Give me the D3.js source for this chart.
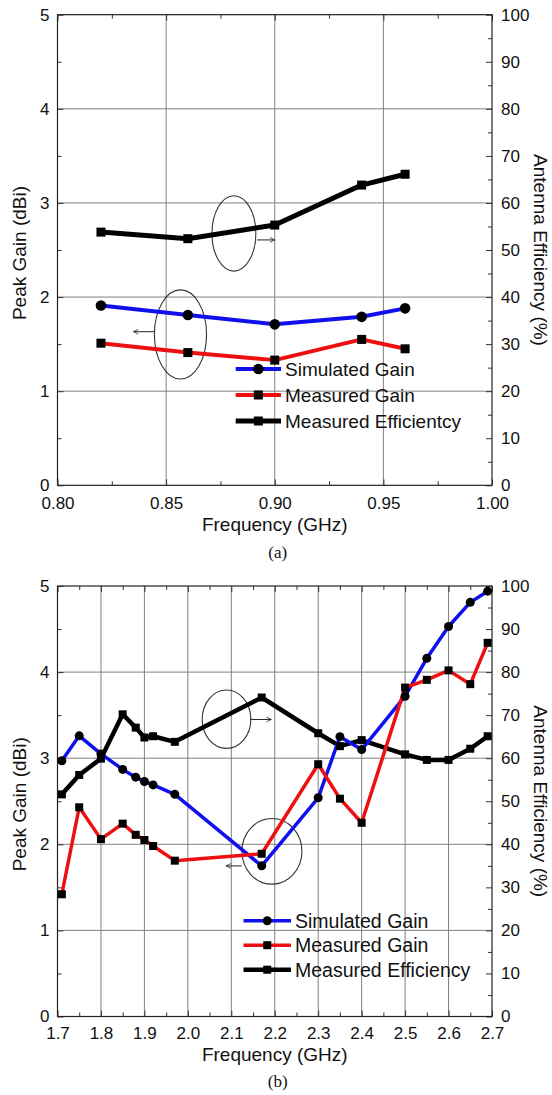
<!DOCTYPE html>
<html><head><meta charset="utf-8">
<script src="https://cdn.jsdelivr.net/npm/d3@7"></script>
<style>
html,body{margin:0;padding:0;background:#fff;}
svg{display:block;}
text{font-family:"Liberation Sans",Arial,sans-serif;fill:#111;}
</style></head>
<body>
<svg id="fig" width="552" height="1095"></svg>
<script>
// ---------- Data: panel (a) ----------
const freqA = [0.82, 0.86, 0.90, 0.94, 0.96];
const simGainA = [1.91, 1.81, 1.71, 1.79, 1.88];
const measGainA = [1.51, 1.41, 1.33, 1.55, 1.45];
const measEffA = [53.8, 52.4, 55.3, 63.8, 66.1];
const xTicksA = [0.80, 0.85, 0.90, 0.95, 1.00];
const xMinorA = [0.825, 0.875, 0.925, 0.975];
const legendA = ["Simulated Gain", "Measured Gain", "Measured Efficientcy"];

// ---------- Data: panel (b) ----------
const freqB = [1.71, 1.75, 1.80, 1.85, 1.88, 1.90, 1.92, 1.97, 2.17, 2.30, 2.35, 2.40, 2.50, 2.55, 2.60, 2.65, 2.69];
const simGainB = [2.97, 3.26, 3.05, 2.87, 2.78, 2.73, 2.69, 2.58, 1.75, 2.54, 3.25, 3.10, 3.72, 4.16, 4.53, 4.81, 4.94];
const measGainB = [1.42, 2.43, 2.06, 2.24, 2.11, 2.05, 1.98, 1.81, 1.89, 2.93, 2.53, 2.25, 3.82, 3.91, 4.02, 3.86, 4.34];
const measEffB = [51.6, 56.1, 59.9, 70.2, 67.1, 64.8, 65.1, 63.8, 74.1, 65.8, 62.8, 64.2, 60.9, 59.6, 59.6, 62.2, 65.1];
const xTicksB = [1.7, 1.8, 1.9, 2.0, 2.1, 2.2, 2.3, 2.4, 2.5, 2.6, 2.7];
const xMinorB = [1.75, 1.85, 1.95, 2.05, 2.15, 2.25, 2.35, 2.45, 2.55, 2.65];
const legendB = ["Simulated Gain", "Measured Gain", "Measured Efficiency"];

// ---------- Shared ticks ----------
const gainTicks = [0, 1, 2, 3, 4, 5];
const gainMinor = [0.5, 1.5, 2.5, 3.5, 4.5];
const effTicks = [0, 10, 20, 30, 40, 50, 60, 70, 80, 90, 100];
const effMinor = [5, 15, 25, 35, 45, 55, 65, 75, 85, 95];
const seriesColors = ["#1010ee", "#ee1010", "#000000"];

// annotation ellipses / arrows in data units: [cx, cy(gain), rx, ry(gain)]
const ellipsesA = [[0.8812, 2.676, 0.0101, 0.40], [0.8566, 1.603, 0.0120, 0.473]];
const arrowsA = [[0.8918, 2.607, 0.9000, 2.607], [0.8446, 1.632, 0.8350, 1.632]];
const ellipsesB = [[2.089, 3.453, 0.056, 0.339], [2.1935, 1.918, 0.069, 0.381]];
const arrowsB = [[2.1436, 3.45, 2.192, 3.45], [2.124, 1.749, 2.088, 1.749]];

const svg = d3.select("#fig");
const defs = svg.append("defs");
defs.append("marker").attr("id", "arrowhead")
  .attr("viewBox", "0 0 10 10").attr("refX", 9).attr("refY", 5)
  .attr("markerWidth", 6).attr("markerHeight", 6).attr("orient", "auto")
  .append("path").attr("d", "M1,1 L9,5 L1,9").attr("fill", "none").attr("stroke", "#222").attr("stroke-width", 1.3);

function panel(cfg) {
  const x = d3.scaleLinear().domain(cfg.xDomain).range([cfg.left, cfg.right]);
  const yL = d3.scaleLinear().domain([0, 5]).range([cfg.bottom, cfg.top]);
  const yR = d3.scaleLinear().domain([0, 100]).range([cfg.bottom, cfg.top]);
  const g = svg.append("g");

  // grid
  const innerX = cfg.xTicks.slice(1, -1);
  g.selectAll(".gx").data(innerX).enter().append("line")
    .attr("x1", d => x(d)).attr("x2", d => x(d)).attr("y1", cfg.top).attr("y2", cfg.bottom)
    .attr("stroke", "#808080").attr("stroke-width", 1);
  g.selectAll(".gy").data(gainTicks.slice(1, -1)).enter().append("line")
    .attr("x1", cfg.left).attr("x2", cfg.right).attr("y1", d => yL(d)).attr("y2", d => yL(d))
    .attr("stroke", "#808080").attr("stroke-width", 1);

  const fs = cfg.tickFont;
  function styleAxis(sel) {
    sel.select(".domain").remove();
    sel.selectAll(".tick line").attr("stroke", "#333").attr("stroke-width", 1);
    sel.selectAll("text").attr("font-size", fs).attr("fill", "#111")
      .attr("font-family", "Liberation Sans, Arial, sans-serif");
  }
  // bottom axis
  g.append("g").attr("transform", `translate(0,${cfg.bottom})`)
    .call(d3.axisBottom(x).tickValues(cfg.xTicks).tickSize(-6).tickPadding(cfg.xPad).tickFormat(d3.format(cfg.xFmt)))
    .call(styleAxis);
  g.append("g").attr("transform", `translate(0,${cfg.bottom})`)
    .call(d3.axisBottom(x).tickValues(cfg.xMinor).tickSize(-4).tickFormat("")).call(styleAxis);
  // top axis
  g.append("g").attr("transform", `translate(0,${cfg.top})`)
    .call(d3.axisTop(x).tickValues(cfg.xTicks).tickSize(-6).tickFormat("")).call(styleAxis);
  g.append("g").attr("transform", `translate(0,${cfg.top})`)
    .call(d3.axisTop(x).tickValues(cfg.xMinor).tickSize(-4).tickFormat("")).call(styleAxis);
  // left axis
  g.append("g").attr("transform", `translate(${cfg.left},0)`)
    .call(d3.axisLeft(yL).tickValues(gainTicks).tickSize(-6).tickPadding(8).tickFormat(d3.format("d")))
    .call(styleAxis);
  g.append("g").attr("transform", `translate(${cfg.left},0)`)
    .call(d3.axisLeft(yL).tickValues(gainMinor).tickSize(-4).tickFormat("")).call(styleAxis);
  // right axis
  g.append("g").attr("transform", `translate(${cfg.right},0)`)
    .call(d3.axisRight(yR).tickValues(effTicks).tickSize(-6).tickPadding(9).tickFormat(d3.format("d")))
    .call(styleAxis);
  g.append("g").attr("transform", `translate(${cfg.right},0)`)
    .call(d3.axisRight(yR).tickValues(effMinor).tickSize(-4).tickFormat("")).call(styleAxis);

  // frame
  g.append("rect").attr("x", cfg.left).attr("y", cfg.top)
    .attr("width", cfg.right - cfg.left).attr("height", cfg.bottom - cfg.top)
    .attr("fill", "none").attr("stroke", "#222").attr("stroke-width", 1.2);

  // annotations
  cfg.ellipses.forEach(e => {
    g.append("ellipse").attr("cx", x(e[0])).attr("cy", yL(e[1]))
      .attr("rx", x(e[0] + e[2]) - x(e[0])).attr("ry", yL(e[1] - e[3]) - yL(e[1]))
      .attr("fill", "none").attr("stroke", "#333").attr("stroke-width", 1.1);
  });
  cfg.arrows.forEach(a => {
    g.append("line").attr("x1", x(a[0])).attr("y1", yL(a[1])).attr("x2", x(a[2])).attr("y2", yL(a[3]))
      .attr("stroke", "#222").attr("stroke-width", 1).attr("marker-end", "url(#arrowhead)");
  });

  // series
  const series = [
    {vals: cfg.sim, y: yL, color: seriesColors[0], shape: "circle", w: cfg.lw},
    {vals: cfg.meas, y: yL, color: seriesColors[1], shape: "square", w: cfg.lw},
    {vals: cfg.eff, y: yR, color: seriesColors[2], shape: "square", w: cfg.lwEff}
  ];
  const drawOrder = cfg.order;
  drawOrder.forEach(i => {
    const s = series[i];
    const pts = cfg.freq.map((f, k) => [x(f), s.y(s.vals[k])]);
    g.append("path").attr("d", d3.line()(pts)).attr("fill", "none")
      .attr("stroke", s.color).attr("stroke-width", s.w).attr("stroke-linejoin", "round");
  });
  drawOrder.forEach(i => {
    const s = series[i];
    const pts = cfg.freq.map((f, k) => [x(f), s.y(s.vals[k])]);
    if (s.shape === "circle") {
      g.selectAll(null).data(pts).enter().append("circle")
        .attr("cx", d => d[0]).attr("cy", d => d[1]).attr("r", cfg.cr).attr("fill", "#000");
    } else {
      g.selectAll(null).data(pts).enter().append("rect")
        .attr("x", d => d[0] - cfg.sq / 2).attr("y", d => d[1] - cfg.sq / 2)
        .attr("width", cfg.sq).attr("height", cfg.sq).attr("fill", "#000");
    }
  });

  // legend
  cfg.legend.forEach((lab, i) => {
    const ly = cfg.legY + i * cfg.legDy;
    const s = series[i];
    g.append("line").attr("x1", cfg.legX0).attr("x2", cfg.legX1).attr("y1", ly).attr("y2", ly)
      .attr("stroke", s.color).attr("stroke-width", s.w);
    const mx = (cfg.legX0 + cfg.legX1) / 2;
    if (s.shape === "circle") g.append("circle").attr("cx", mx).attr("cy", ly).attr("r", cfg.cr).attr("fill", "#000");
    else g.append("rect").attr("x", mx - cfg.sq / 2).attr("y", ly - cfg.sq / 2).attr("width", cfg.sq).attr("height", cfg.sq).attr("fill", "#000");
    g.append("text").attr("x", cfg.legX1 + 4).attr("y", ly).attr("dy", "0.36em")
      .attr("font-size", cfg.legFont).text(lab);
  });

  // axis titles
  const cx = (cfg.left + cfg.right) / 2;
  g.append("text").attr("x", cx).attr("y", cfg.xTitleY).attr("text-anchor", "middle")
    .attr("font-size", cfg.titleFont).text("Frequency (GHz)");
  const cyMid = (cfg.top + cfg.bottom) / 2;
  g.append("text").attr("transform", `translate(${cfg.yTitleL},${cyMid + 3}) rotate(-90)`)
    .attr("text-anchor", "middle").attr("dy", "0.36em").attr("font-size", cfg.titleFont).text("Peak Gain (dBi)");
  g.append("text").attr("transform", `translate(${cfg.yTitleR},${cyMid}) rotate(90)`)
    .attr("text-anchor", "middle").attr("dy", "0.36em").attr("font-size", cfg.titleFont).text("Antenna Efficiency (%)");
  g.append("text").attr("x", cx + 3).attr("y", cfg.capY).attr("text-anchor", "middle")
    .attr("font-size", 17).style("font-family", "'Liberation Serif','Times New Roman',serif").text(cfg.caption);
}

panel({
  xDomain: [0.80, 1.00], left: 57.5, right: 492, top: 14.7, bottom: 485.3,
  xTicks: xTicksA, xMinor: xMinorA, xFmt: ".2f", xPad: 12, tickFont: 17,
  freq: freqA, sim: simGainA, meas: measGainA, eff: measEffA,
  order: [2, 0, 1], lw: 4, lwEff: 5, cr: 5.3, sq: 9,
  ellipses: ellipsesA, arrows: arrowsA,
  legend: legendA, legX0: 235.7, legX1: 281, legY: 369, legDy: 26, legFont: 19,
  xTitleY: 531, titleFont: 19, yTitleL: 19, yTitleR: 541, capY: 558, caption: "(a)"
});

panel({
  xDomain: [1.7, 2.7], left: 57.5, right: 492, top: 586, bottom: 1016.5,
  xTicks: xTicksB, xMinor: xMinorB, xFmt: ".1f", xPad: 10, tickFont: 17,
  freq: freqB, sim: simGainB, meas: measGainB, eff: measEffB,
  order: [2, 0, 1], lw: 3.5, lwEff: 4.5, cr: 4.5, sq: 8,
  ellipses: ellipsesB, arrows: arrowsB,
  legend: legendB, legX0: 243.5, legX1: 291, legY: 920.7, legDy: 24.5, legFont: 19.5,
  xTitleY: 1061, titleFont: 19, yTitleL: 19, yTitleR: 541, capY: 1087, caption: "(b)"
});
</script>
</body></html>
